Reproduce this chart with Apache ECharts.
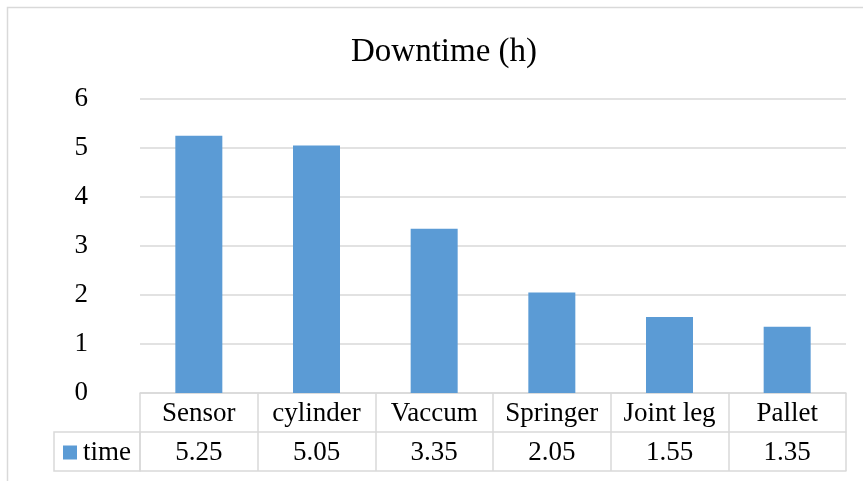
<!DOCTYPE html>
<html>
<head>
<meta charset="utf-8">
<script src="https://cdn.jsdelivr.net/npm/echarts@6/dist/echarts.min.js"></script>
<style>html,body{margin:0;padding:0;background:#fff;}#c{width:863px;height:481px;}</style>
</head>
<body>
<div id="c"></div>
<script>
const categories = ['Sensor', 'cylinder', 'Vaccum', 'Springer', 'Joint leg', 'Pallet'];
const seriesName = 'time';
const values = [5.25, 5.05, 3.35, 2.05, 1.55, 1.35];
const yTicks = [0, 1, 2, 3, 4, 5, 6];

const FONT = '"Liberation Serif", "Times New Roman", serif';
const GRID = '#d9d9d9';
const chart = echarts.init(document.getElementById('c'), null, {renderer: 'canvas'});
chart.setOption({
  backgroundColor: '#fff',
  animation: false,
  title: {
    text: 'Downtime (h)',
    left: 346, top: 31,
    textStyle: {fontFamily: FONT, fontSize: 33, fontWeight: 'normal', color: '#000'}
  },
  legend: {
    data: [seriesName],
    left: 63, top: 439, padding: 0,
    icon: 'rect', itemWidth: 14, itemHeight: 14, itemGap: 6,
    textStyle: {fontFamily: FONT, fontSize: 27, color: '#000', padding: [0, 0, 0, 1]}
  },
  grid: {left: 140, right: 17, top: 99, bottom: 88, containLabel: false},
  xAxis: [
    {
      type: 'category', data: categories, position: 'bottom',
      axisLine: {show: true, lineStyle: {color: GRID, width: 1.5}},
      axisTick: {show: true, length: 39, lineStyle: {color: GRID, width: 1.5}},
      axisLabel: {fontFamily: FONT, fontSize: 27, color: '#000', margin: 21, verticalAlign: 'middle', interval: 0}
    },
    {
      type: 'category', data: values.map(v => v.toFixed(2)), position: 'bottom', offset: 39,
      axisLine: {show: true, lineStyle: {color: GRID, width: 1.5}},
      axisTick: {show: true, length: 39, lineStyle: {color: GRID, width: 1.5}},
      axisLabel: {fontFamily: FONT, fontSize: 27, color: '#000', margin: 21, verticalAlign: 'middle', interval: 0}
    },
    {
      type: 'category', data: categories, position: 'bottom', offset: 78,
      axisLine: {show: true, lineStyle: {color: GRID, width: 1.5}},
      axisTick: {show: false}, axisLabel: {show: false}
    }
  ],
  yAxis: {
    type: 'value', min: yTicks[0], max: yTicks[yTicks.length - 1], interval: 1,
    axisLine: {show: false}, axisTick: {show: false},
    axisLabel: {fontFamily: FONT, fontSize: 27, color: '#000', margin: 52, padding: [4, 0, 0, 0]},
    splitLine: {lineStyle: {color: GRID, width: 1.5}}
  },
  series: [{
    name: seriesName, type: 'bar', data: values, barWidth: 47,
    itemStyle: {color: '#5B9BD5'}
  }],
  graphic: [
    {type: 'rect', shape: {x: 7.5, y: 7.5, width: 900, height: 520}, style: {fill: 'none', stroke: GRID, lineWidth: 1.5}, z: -1},
    {type: 'rect', shape: {x: 54, y: 432, width: 86, height: 39}, style: {fill: 'none', stroke: GRID, lineWidth: 1.5}, z: -1}
  ]
});
</script>
</body>
</html>
